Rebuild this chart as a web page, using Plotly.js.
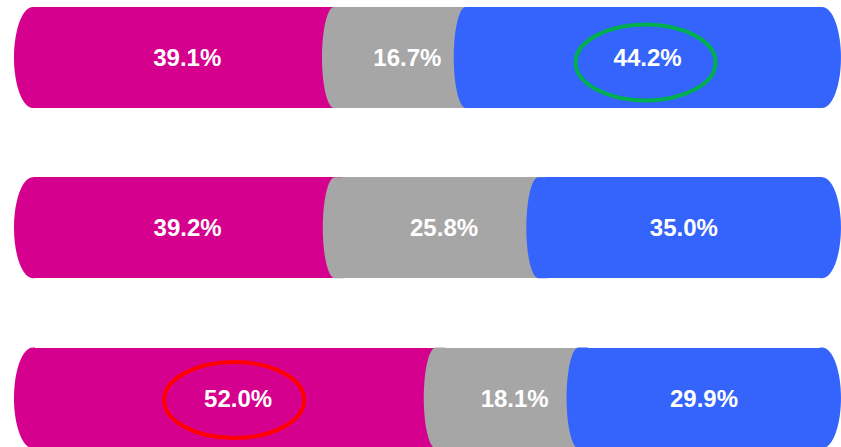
<!DOCTYPE html>
<html>
<head>
<meta charset="utf-8">
<script src="https://cdn.plot.ly/plotly-3.0.1.min.js"></script>
<style>html,body{margin:0;padding:0;background:#fff;}#chart{width:841px;height:447px;}</style>
</head>
<body>
<div id="chart"></div>
<script>
// ---- data ----
const rows = [0, 1, 2];                       // bar positions, top to bottom
const seriesNames = ['Series 1', 'Series 2', 'Series 3'];
const magentaVals = [39.1, 39.2, 52.0];
const grayVals    = [16.7, 25.8, 18.1];
const blueVals    = [44.2, 35.0, 29.9];
const highlightGreen = {row: 0, series: 2};   // circled 44.2%
const highlightRed   = {row: 2, series: 0};   // circled 52.0%

// ---- styling ----
const colors = ['#d5008d', '#a6a6a6', '#3464fb'];
const W = 841, H = 447;
const xRange = [-4.18, 102.41];
const yRange = [2.2878, -0.3377];
const barW = 0.593;
const uX = (xRange[1] - xRange[0]) / W;      // data units per pixel (x)
const uY = (yRange[0] - yRange[1]) / H;      // data units per pixel (y)

const series = [magentaVals, grayVals, blueVals];
const traces = series.map((vals, i) => ({
  type: 'bar',
  orientation: 'h',
  name: seriesNames[i],
  y: rows,
  x: vals,
  width: barW,
  marker: {color: colors[i], line: {width: 0}},
  text: vals.map(v => '<b>' + v.toFixed(1) + '%</b>'),
  textposition: 'inside',
  insidetextanchor: 'middle',
  textangle: 0,
  textfont: {color: '#ffffff', size: 24, family: 'Liberation Sans, Arial, sans-serif'},
  hoverinfo: 'none',
  showlegend: false
}));

const K = 0.5523;
function leftCap(cx, b, cy, rx, ry, color) {
  const p = `M${cx},${cy - ry} C${cx - K * rx},${cy - ry} ${cx - rx},${cy - K * ry} ${cx - rx},${cy} ` +
            `C${cx - rx},${cy + K * ry} ${cx - K * rx},${cy + ry} ${cx},${cy + ry} ` +
            `L${b},${cy + ry} L${b},${cy - ry} Z`;
  return {type: 'path', xref: 'x', yref: 'y', path: p, fillcolor: color, line: {width: 0}, layer: 'above'};
}
function rightCap(cx, cy, rx, ry, color) {
  const b = cx - 2 * uX;
  const p = `M${b},${cy - ry} L${cx},${cy - ry} C${cx + K * rx},${cy - ry} ${cx + rx},${cy - K * ry} ${cx + rx},${cy} ` +
            `C${cx + rx},${cy + K * ry} ${cx + K * rx},${cy + ry} ${cx},${cy + ry} L${b},${cy + ry} Z`;
  return {type: 'path', xref: 'x', yref: 'y', path: p, fillcolor: color, line: {width: 0}, layer: 'above'};
}

const shapes = [];
const ry = barW / 2;
const outerRx = 19 * uX, innerRx = 12 * uX, innerShift = 7.5 * uX, overlap = 2 * uX;
rows.forEach((r, ri) => {
  let start = 0;
  series.forEach((vals, si) => {
    const end = start + vals[ri];
    if (si === 0) {
      shapes.push(leftCap(start, start + overlap, r, outerRx, ry, colors[si]));
    } else {
      shapes.push(leftCap(start - innerShift, start + overlap, r, innerRx, ry, colors[si]));
    }
    if (si === series.length - 1) {
      shapes.push(rightCap(end, r, outerRx, ry, colors[si]));
    }
    start = end;
  });
});

function highlight(h, color, dxPx, dyPx) {
  let start = 0;
  for (let s = 0; s < h.series; s++) start += series[s][h.row];
  const c = start + series[h.series][h.row] / 2 + dxPx * uX;
  const cy = rows[h.row] + dyPx * uY;
  const hx = 70 * uX, hy = 38 * uY;
  return {type: 'circle', xref: 'x', yref: 'y', x0: c - hx, x1: c + hx, y0: cy - hy, y1: cy + hy,
          line: {color: color, width: 4}, fillcolor: 'rgba(0,0,0,0)', layer: 'above'};
}
shapes.push(highlight(highlightGreen, '#00b050', -2, 5));
shapes.push(highlight(highlightRed, '#ff0000', -4, 2));

const layout = {
  width: W, height: H,
  margin: {l: 0, r: 0, t: 0, b: 0, pad: 0},
  barmode: 'stack',
  paper_bgcolor: '#ffffff',
  plot_bgcolor: '#ffffff',
  xaxis: {range: xRange, visible: false, fixedrange: true},
  yaxis: {range: yRange, visible: false, fixedrange: true},
  shapes: shapes,
  showlegend: false
};

Plotly.newPlot('chart', traces, layout, {displayModeBar: false, staticPlot: true});
</script>
</body>
</html>
